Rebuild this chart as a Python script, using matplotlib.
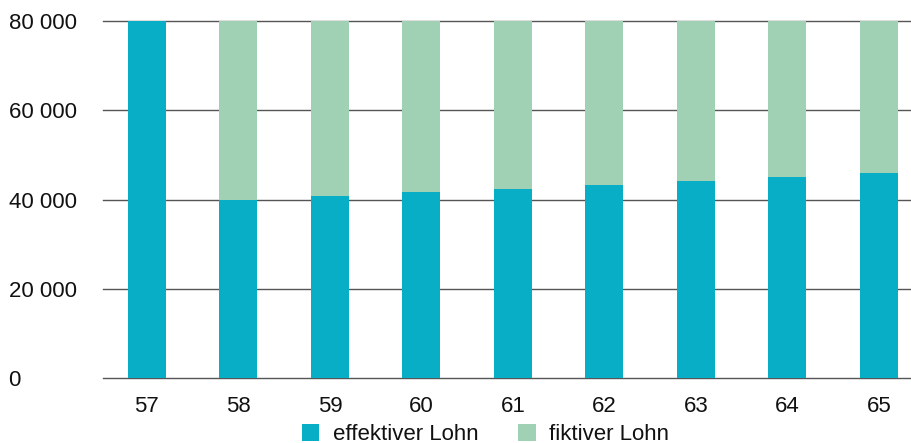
import numpy as np
import matplotlib
matplotlib.use("Agg")
import matplotlib.pyplot as plt

plt.rcParams["font.family"] = ["Liberation Sans", "DejaVu Sans"]

COLOR_EFF = "#08ADC6"
COLOR_FIKT = "#A1D1B4"

ages = ["57", "58", "59", "60", "61", "62", "63", "64", "65"]
effektiv = [80000, 40000, 40800, 41616, 42448, 43297, 44163, 45046, 45947]
fiktiv = [0, 40000, 39200, 38384, 37552, 36703, 35837, 34954, 34053]
y_ticks = [0, 20000, 40000, 60000, 80000]
y_labels = ["0", "20 000", "40 000", "60 000", "80 000"]

fig = plt.figure(figsize=(9.11, 4.43), dpi=100)
ax = fig.add_axes([103 / 911, 1 - 378 / 443, 1 - 103 / 911, (378 - 21) / 443])

x = np.arange(len(ages))
width = 0.415
ax.bar(x, effektiv, width, color=COLOR_EFF, label="effektiver Lohn", zorder=3)
ax.bar(x, fiktiv, width, bottom=effektiv, color=COLOR_FIKT, label="fiktiver Lohn", zorder=3)

ax.set_xlim(-0.48, len(ages) - 1 + 0.35)
ax.set_ylim(0, 80000)
ax.set_yticks(y_ticks)
ax.set_yticklabels(y_labels, ha="left", va="center_baseline")
ax.set_xticks(x)
ax.set_xticklabels(ages)
ax.tick_params(axis="y", length=0, pad=68, labelsize=16, colors="#111111")
ax.tick_params(axis="x", length=0, pad=13, labelsize=16, colors="#111111")

# horizontal gridlines only, bars on top
ax.yaxis.grid(True, color="#555555", linewidth=1.0, zorder=0)
ax.set_axisbelow(True)
for gl in ax.get_ygridlines():
    gl.set_clip_on(False)
for s in ax.spines.values():
    s.set_visible(False)

fig.legend(loc="center", bbox_to_anchor=(0.533, 0.02), ncol=2, frameon=False,
           fontsize=16, handlelength=0.8, handleheight=0.8, handletextpad=0.6,
           columnspacing=1.8, borderpad=0, labelcolor="#111111")

plt.savefig("out.png", dpi=100)
plt.close()
